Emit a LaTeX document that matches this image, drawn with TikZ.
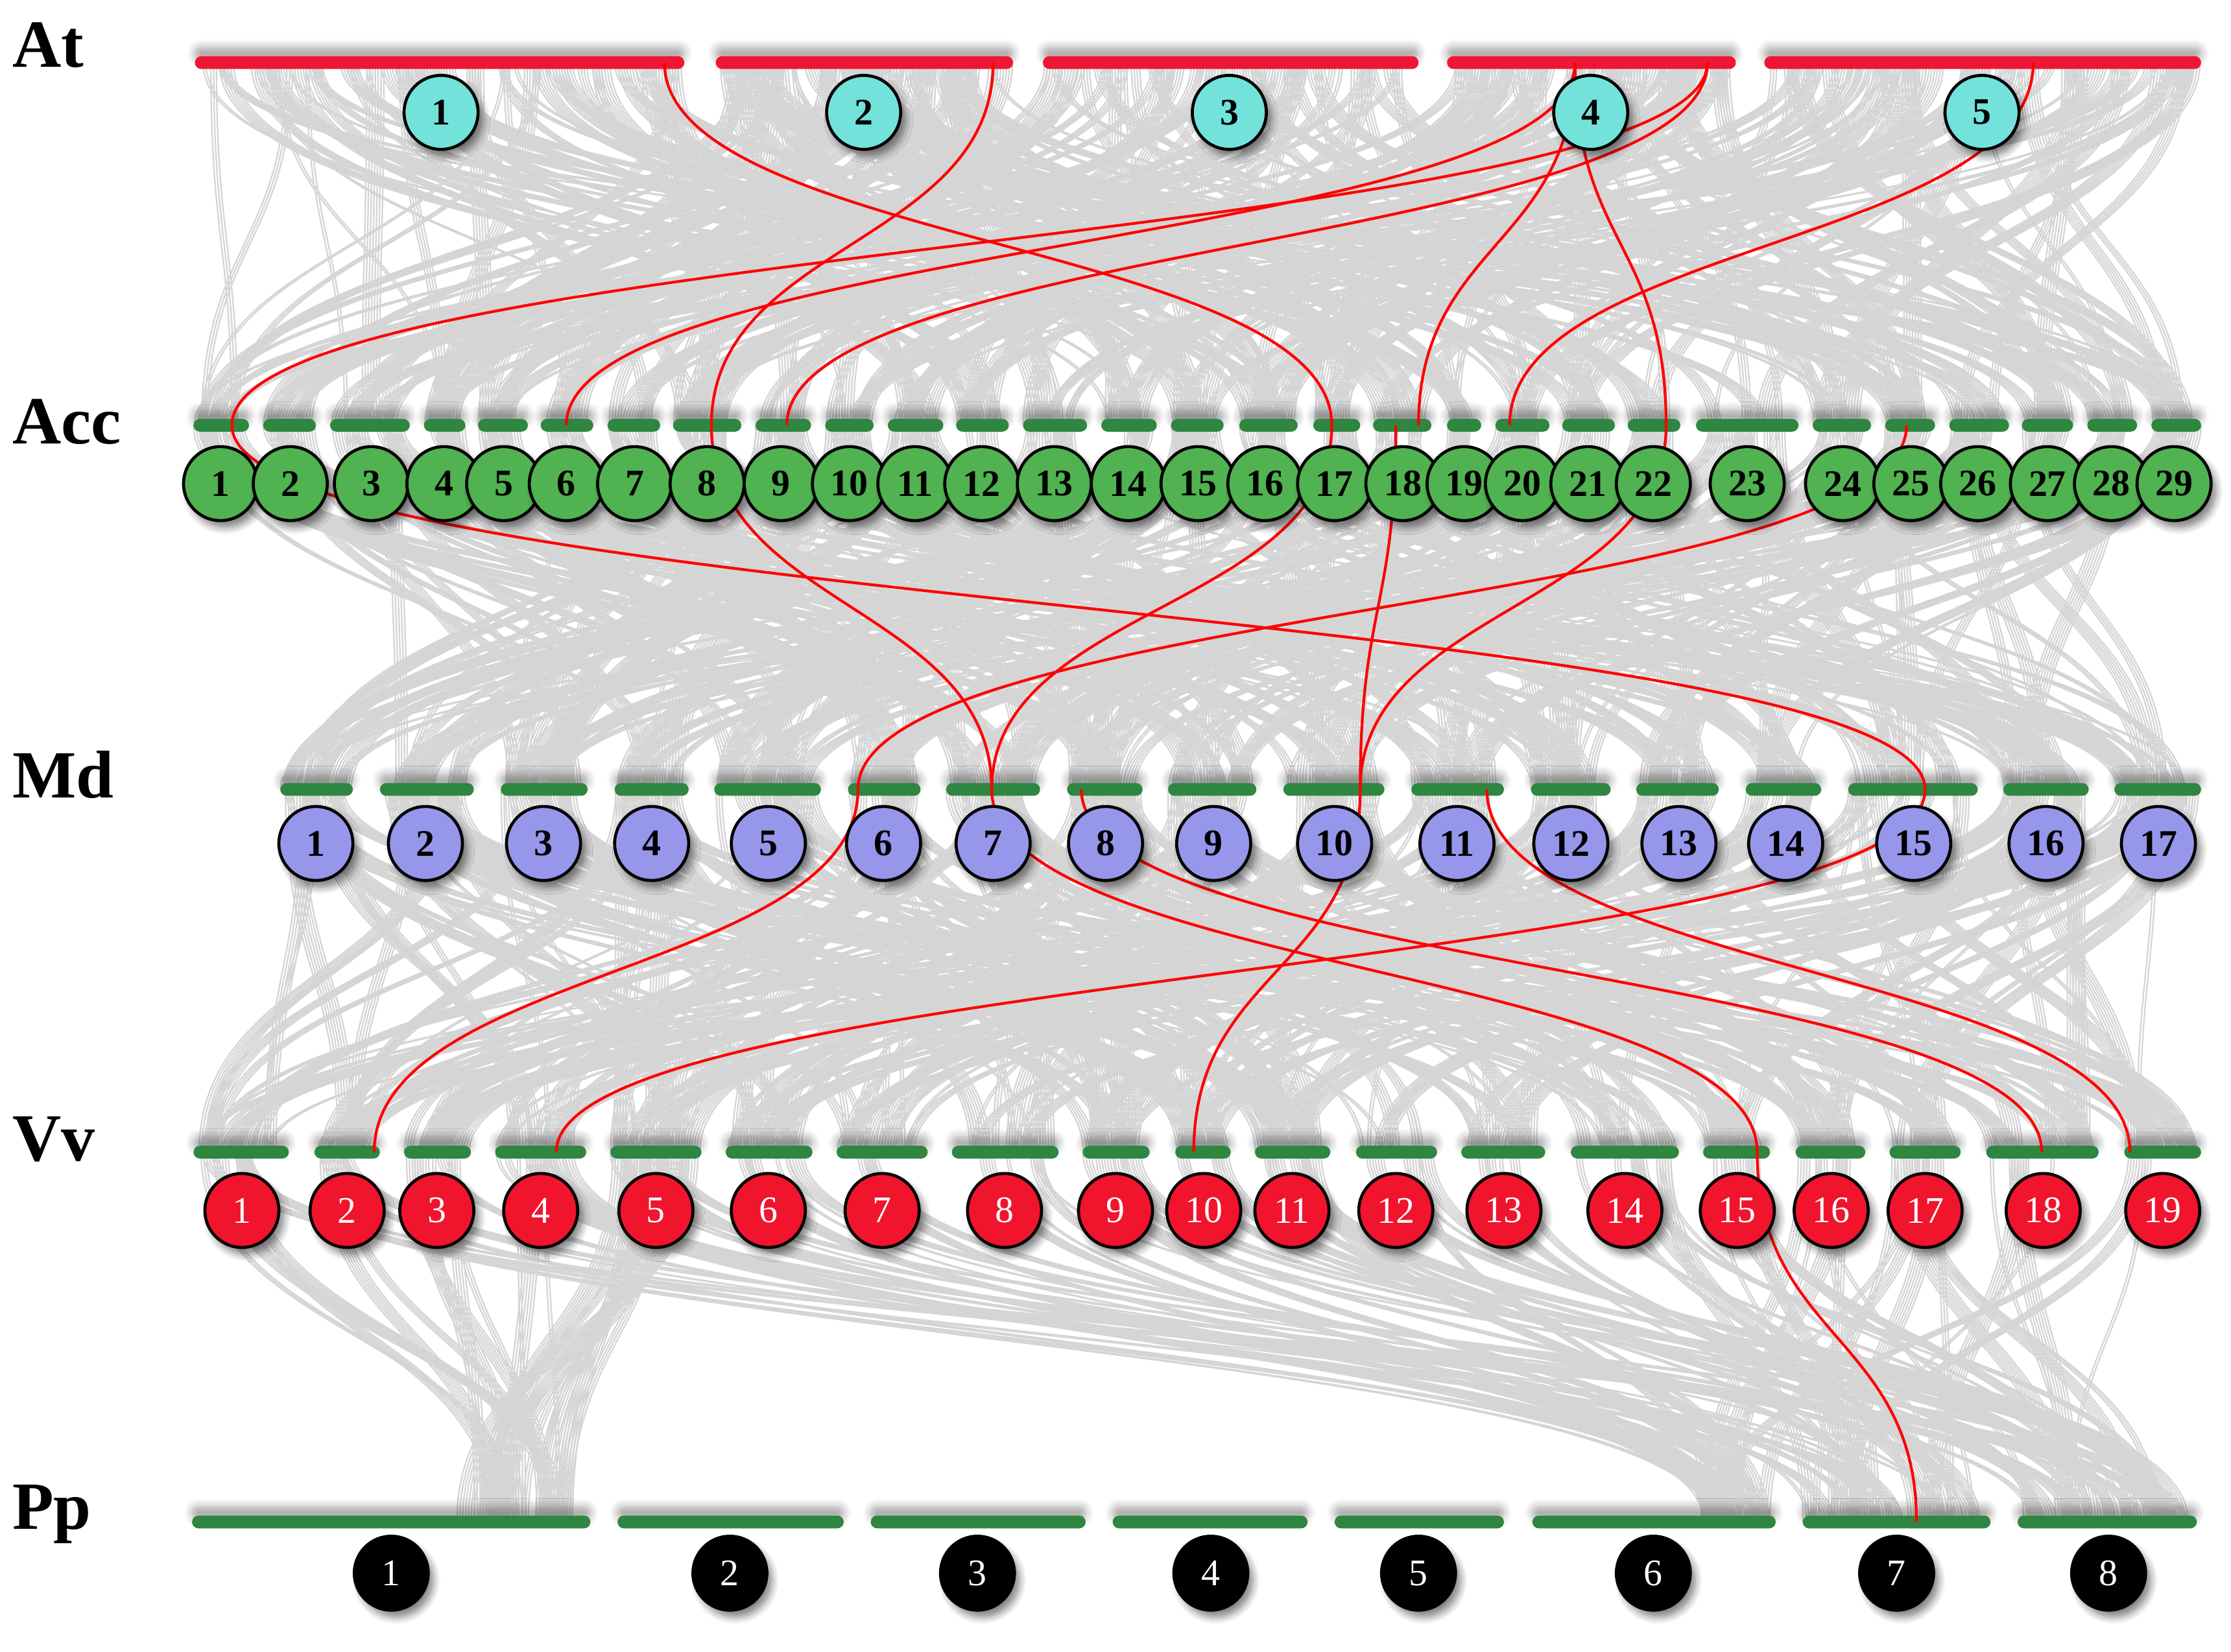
\documentclass[tikz,border=0pt]{standalone}
\usepackage{fontspec}
\setmainfont{Liberation Serif}
\usetikzlibrary{shadows.blur}

\definecolor{atbar}{RGB}{238,22,52}
\definecolor{atcirc}{RGB}{115,226,218}
\definecolor{gbar}{RGB}{46,134,64}
\definecolor{acccirc}{RGB}{80,178,80}
\definecolor{mdcirc}{RGB}{150,150,235}
\definecolor{vvcirc}{RGB}{240,20,45}
\definecolor{syn}{RGB}{213,213,213}
\definecolor{hl}{RGB}{255,0,0}

\tikzset{
  chrom/.style={circle, draw=black, line width=0.6pt, minimum size=0.52cm, inner sep=0pt,
    font=\fontsize{7.5}{8}\selectfont\bfseries,
    blur shadow={shadow xshift=1pt, shadow yshift=-1.4pt, shadow blur radius=1.4pt, shadow blur steps=6, shadow opacity=50}},
  atc/.style={chrom, fill=atcirc},
  accc/.style={chrom, fill=acccirc},
  mdc/.style={chrom, fill=mdcirc},
  vvc/.style={chrom, fill=vvcirc, text=white, font=\fontsize{7.5}{8}\selectfont},
  ppc/.style={chrom, fill=black, text=white, font=\fontsize{7.5}{8}\selectfont},
  barbox/.style={rectangle, rounded corners=0.045cm, minimum height=0.09cm, inner sep=0pt, draw=none,
    blur shadow={shadow xshift=0pt, shadow yshift=1.8pt, shadow blur radius=1.6pt, shadow blur steps=6, shadow opacity=35}},
  atbarbox/.style={barbox, fill=atbar},
  gbarbox/.style={barbox, fill=gbar},
  synline/.style={draw=syn, line width=0.3pt},
  redline/.style={draw=hl, line width=0.55pt},
  spname/.style={anchor=base west, inner sep=0pt, font=\fontsize{13.5}{14}\selectfont\bfseries},
}

\newcommand\rlink[3]{\draw[redline] (#1) .. controls +(0,#3) and +(0,-#3) .. (#2);}

% #1 blocks, #2 y1, #3 y2, #4 src starts, #5 src ends, #6 nsrc, #7 tgt starts, #8 tgt ends, #9 ntgt
\newcommand\synblocks[9]{%
  \foreach \k in {1,...,#1}{%
    \pgfmathtruncatemacro\js{random(1,#6)-1}%
    \pgfmathsetmacro\sa{{#4}[\js]}%
    \pgfmathsetmacro\sb{{#5}[\js]}%
    \pgfmathtruncatemacro\jt{random(1,#9)-1}%
    \pgfmathsetmacro\ta{{#7}[\jt]}%
    \pgfmathsetmacro\tb{{#8}[\jt]}%
    \pgfmathtruncatemacro\nl{random(2,7)}%
    \pgfmathsetmacro\xs{\sa+rnd*max(\sb-\sa-12,0)}%
    \pgfmathsetmacro\xt{\ta+rnd*max(\tb-\ta-12,0)}%
    \pgfmathsetmacro\ym{(#2+#3)/2}%
    \foreach \m in {1,...,\nl}{%
      \pgfmathsetmacro\us{\xs+(\m-1)*2}%
      \pgfmathsetmacro\ut{\xt+(\m-1)*2}%
      \draw[synline] (\us,#2) .. controls (\us,\ym) and (\ut,\ym) .. (\ut,#3);%
    }%
  }%
}

\def\AtS{137,503,733,1017,1240}
\def\AtE{481,712,997,1220,1547}
\def\AccS{136,185,232,298,336,380,427,473,531,580,624,672,719,774,823,871,923,965,1017,1051,1098,1144,1192,1274,1325,1370,1421,1467,1512}
\def\AccE{175,222,288,327,371,417,464,521,570,614,663,709,764,813,860,912,956,1006,1041,1089,1135,1181,1264,1315,1360,1412,1457,1502,1547}
\def\MdS{197,267,352,432,502,596,665,750,821,902,992,1076,1150,1227,1299,1408,1486}
\def\MdE{248,333,413,484,577,647,731,803,883,973,1057,1132,1208,1280,1390,1468,1547}
\def\VvS{136,221,284,348,429,510,588,669,761,826,882,953,1027,1104,1197,1262,1328,1396,1493}
\def\VvE{203,267,331,412,493,571,652,744,808,865,935,1010,1086,1180,1244,1311,1378,1475,1547}
\def\VvLS{136,221,284,348,429}
\def\VvLE{203,267,331,412,493}
\def\PpLS{318,318}
\def\PpLE{412,412}
\def\PpRS{1195,1267,1418}
\def\PpRE{1248,1399,1544}

\begin{document}
\begin{tikzpicture}[x=0.01cm, y=-0.01cm]
\useasboundingbox (0,0) rectangle (1568,1161);
\pgfmathsetseed{20231}

% ---------- background synteny (grey) ----------
\synblocks{320}{44}{299}{\AtS}{\AtE}{5}{\AccS}{\AccE}{29}
\synblocks{320}{299}{555}{\AccS}{\AccE}{29}{\MdS}{\MdE}{17}
\synblocks{320}{555}{810}{\MdS}{\MdE}{17}{\VvS}{\VvE}{19}
\synblocks{26}{810}{1070}{\VvLS}{\VvLE}{5}{\PpLS}{\PpLE}{2}
\synblocks{100}{810}{1070}{\VvS}{\VvE}{19}{\PpRS}{\PpRE}{3}

% ---------- species labels ----------
\node[spname] (lab-at)  at (8,47)   {At};
\node[spname] (lab-acc) at (8,312)  {Acc};
\node[spname] (lab-md)  at (8,561)  {Md};
\node[spname] (lab-vv)  at (8,816)  {Vv};
\node[spname] (lab-pp)  at (8,1075) {Pp};

% ---------- chromosome bars ----------
\foreach \a/\b [count=\i] in {137/481,503/712,733/997,1017/1220,1240/1547}
  \node[atbarbox, minimum width={(\b-\a)*0.01cm}] (atbar-\i) at ({(\a+\b)/2},44) {};
\foreach \a/\b [count=\i] in {136/175,185/222,232/288,298/327,336/371,380/417,427/464,473/521,531/570,580/614,624/663,672/709,719/764,774/813,823/860,871/912,923/956,965/1006,1017/1041,1051/1089,1098/1135,1144/1181,1192/1264,1274/1315,1325/1360,1370/1412,1421/1457,1467/1502,1512/1547}
  \node[gbarbox, minimum width={(\b-\a)*0.01cm}] (accbar-\i) at ({(\a+\b)/2},299) {};
\foreach \a/\b [count=\i] in {197/248,267/333,352/413,432/484,502/577,596/647,665/731,750/803,821/883,902/973,992/1057,1076/1132,1150/1208,1227/1280,1299/1390,1408/1468,1486/1547}
  \node[gbarbox, minimum width={(\b-\a)*0.01cm}] (mdbar-\i) at ({(\a+\b)/2},555) {};
\foreach \a/\b [count=\i] in {136/203,221/267,284/331,348/412,429/493,510/571,588/652,669/744,761/808,826/865,882/935,953/1010,1027/1086,1104/1180,1197/1244,1262/1311,1328/1378,1396/1475,1493/1547}
  \node[gbarbox, minimum width={(\b-\a)*0.01cm}] (vvbar-\i) at ({(\a+\b)/2},810) {};
\foreach \a/\b [count=\i] in {135/415,434/593,612/763,782/919,938/1057,1077/1248,1267/1399,1418/1544}
  \node[gbarbox, minimum width={(\b-\a)*0.01cm}] (ppbar-\i) at ({(\a+\b)/2},1070) {};

% ---------- highlighted gene pairs (red) ----------
\coordinate (at1p)  at (467,44);
\coordinate (at2p)  at (698,44);
\coordinate (at4a)  at (1107,44);
\coordinate (at4b)  at (1200,44);
\coordinate (at5p)  at (1429,44);
\coordinate (acc1p)  at (163,299);
\coordinate (acc6p)  at (398,299);
\coordinate (acc8p)  at (500,299);
\coordinate (acc9p)  at (553,299);
\coordinate (acc17p) at (936,299);
\coordinate (acc18p) at (997,299);
\coordinate (acc18q) at (981,299);
\coordinate (acc20p) at (1061,299);
\coordinate (acc22p) at (1171,299);
\coordinate (acc25p) at (1340,299);
\coordinate (md6p)  at (603,555);
\coordinate (md7p)  at (697,555);
\coordinate (md8p)  at (760,555);
\coordinate (md10p) at (956,555);
\coordinate (md11p) at (1045,555);
\coordinate (md15p) at (1353,555);
\coordinate (vv2p)  at (263,810);
\coordinate (vv4p)  at (391,810);
\coordinate (vv10p) at (839,810);
\coordinate (vv15p) at (1235,810);
\coordinate (vv18p) at (1435,810);
\coordinate (vv19p) at (1497,810);
\coordinate (pp7p)  at (1347,1070);

\rlink{at1p}{acc17p}{127.5}
\rlink{at2p}{acc8p}{127.5}
\rlink{at4a}{acc6p}{127.5}
\rlink{at4a}{acc18p}{127.5}
\rlink{at4a}{acc22p}{127.5}
\rlink{at4b}{acc1p}{127.5}
\rlink{at4b}{acc9p}{127.5}
\rlink{at5p}{acc20p}{127.5}

\rlink{acc1p}{md15p}{128}
\rlink{acc8p}{md7p}{128}
\rlink{acc17p}{md7p}{128}
\rlink{acc18q}{md10p}{128}
\rlink{acc22p}{md10p}{128}
\rlink{acc25p}{md6p}{128}

\rlink{md6p}{vv2p}{127.5}
\rlink{md7p}{vv15p}{127.5}
\rlink{md8p}{vv18p}{127.5}
\rlink{md10p}{vv10p}{127.5}
\rlink{md11p}{vv19p}{127.5}
\rlink{md15p}{vv4p}{127.5}

\rlink{vv15p}{pp7p}{130}

% ---------- chromosome labels ----------
\foreach \x [count=\i] in {310,607,864,1118,1393}
  \node[atc] (at-\i) at (\x,79) {\i};
\foreach \x [count=\i] in {155,204,261,312,354,398,446,497,549,597,643,690,741,793,842,889,938,986,1029,1070,1116,1162,1228,1295,1343,1390,1439,1484,1528}
  \node[accc] (acc-\i) at (\x,340) {\i};
\foreach \x [count=\i] in {222,299,382,458,540,621,698,777,853,938,1024,1104,1180,1255,1345,1438,1517}
  \node[mdc] (md-\i) at (\x,593) {\i};
\foreach \x [count=\i] in {170,244,307,380,461,540,620,706,784,846,908,981,1057,1142,1221,1287,1353,1436,1520}
  \node[vvc] (vv-\i) at (\x,851) {\i};
\foreach \x [count=\i] in {275,513,687,851,997,1162,1333,1482}
  \node[ppc] (pp-\i) at (\x,1106) {\i};
\end{tikzpicture}
\end{document}
